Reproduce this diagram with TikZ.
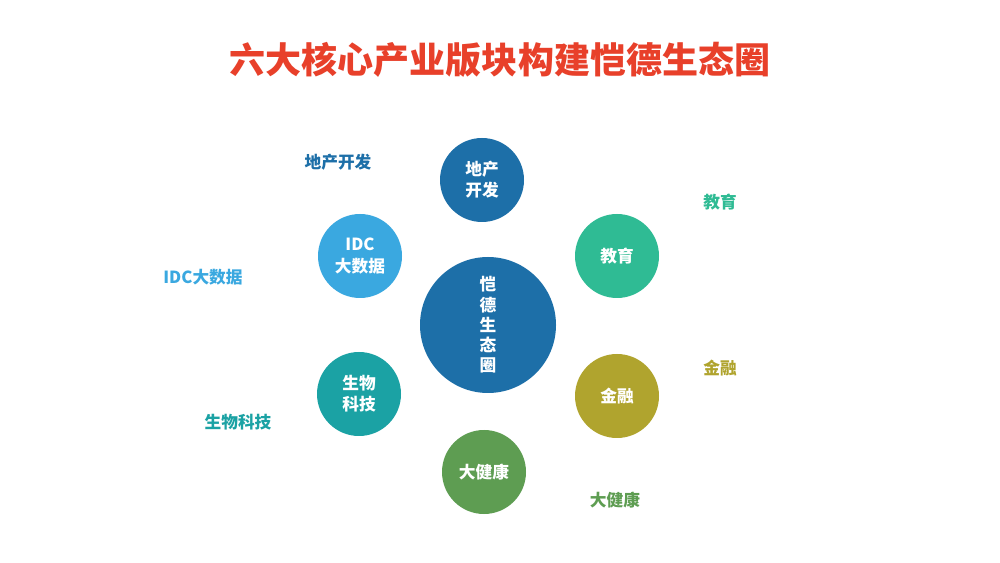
\documentclass[tikz,border=0pt]{standalone}
\usepackage{fontspec}
\setmainfont{Noto Sans CJK SC}
\usetikzlibrary{calc}
\definecolor{cTop}{HTML}{1D6FA8}
\definecolor{cEdu}{HTML}{2FBB94}
\definecolor{cFin}{HTML}{B0A42E}
\definecolor{cHea}{HTML}{5E9D52}
\definecolor{cBio}{HTML}{1BA2A4}
\definecolor{cIdc}{HTML}{3AA8E0}
\definecolor{cRed}{HTML}{E8402A}
\tikzset{
  petalc/.style={circle,minimum size=84*0.02cm,inner sep=0pt,text=white,font=\bfseries\fontsize{9.5}{12}\selectfont,align=center},
  outer/.style={font=\bfseries\fontsize{9.5}{12}\selectfont},
}
\newcommand{\petaldraw}[6]{%
  \node[petalc,fill=#2] (#1) at (#3) {#6};
  \coordinate (#1t) at (#4);
  \begin{pgfonlayer}{background}
  \fill[#2] (#1t) -- (tangent cs:node=#1,point={(#1t)},solution=1) -- (#1.center) -- (tangent cs:node=#1,point={(#1t)},solution=2) -- cycle;
  \end{pgfonlayer}
}
\pgfdeclarelayer{background}
\pgfsetlayers{background,main}
\begin{document}
\begin{tikzpicture}[x=0.02cm,y=-0.02cm]
\useasboundingbox[fill=white] (0,0) rectangle (1000,563);
\node[text=cRed,font=\bfseries\fontsize{20.5}{24}\selectfont] (title) at (500,60) {六大核心产业版块构建恺德生态圈};
\node[circle,fill=cTop,minimum size=136*0.02cm,inner sep=0pt,text=white,font=\bfseries\fontsize{9.5}{11.5}\selectfont,align=center] (hub) at (488,325) {恺\\德\\生\\态\\圈};
\petaldraw{top}{cTop}{482,180}{490,246}{}{地产\\开发}
\petaldraw{edu}{cEdu}{617,256}{556,288}{}{教育}
\petaldraw{fin}{cFin}{617,396}{556,362}{}{金融}
\petaldraw{hea}{cHea}{484,472}{488,404}{}{大健康}
\petaldraw{bio}{cBio}{359,394}{421,356}{}{生物\\科技}
\petaldraw{idc}{cIdc}{360,256}{422,296}{}{IDC\\大数据}
\node[outer,text=cTop] (l1) at (338,162) {地产开发};
\node[outer,text=cEdu] (l2) at (720,202) {教育};
\node[outer,text=cFin] (l3) at (720,368) {金融};
\node[outer,text=cHea] (l4) at (615,500) {大健康};
\node[outer,text=cBio] (l5) at (238,422) {生物科技};
\node[outer,text=cIdc] (l6) at (203,277) {IDC大数据};
\end{tikzpicture}
\end{document}
